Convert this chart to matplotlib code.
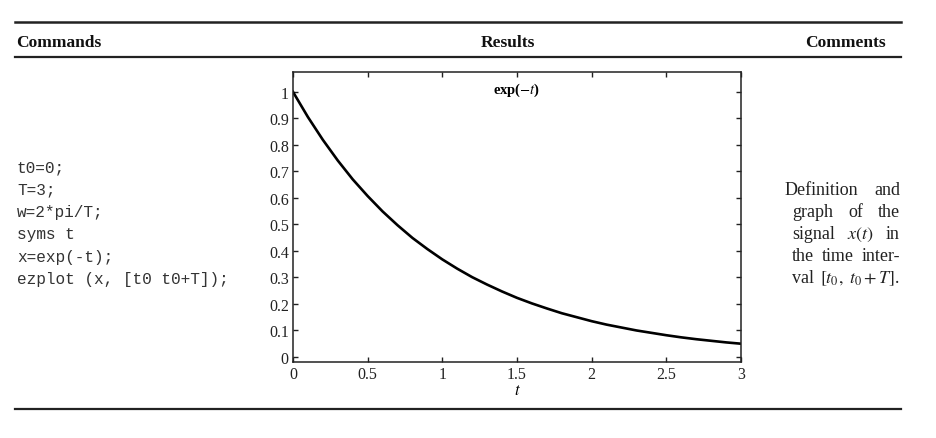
import matplotlib
matplotlib.use("Agg")
import matplotlib.pyplot as plt
from matplotlib.lines import Line2D

plt.rcParams['font.family'] = ['Liberation Serif', 'DejaVu Serif']
plt.rcParams['mathtext.fontset'] = 'stix'

# values
t = [0.0, 0.1, 0.2, 0.3, 0.4, 0.5, 0.6, 0.7, 0.8, 0.9, 1.0,
     1.1, 1.2, 1.3, 1.4, 1.5, 1.6, 1.7, 1.8, 1.9, 2.0,
     2.1, 2.2, 2.3, 2.4, 2.5, 2.6, 2.7, 2.8, 2.9, 3.0]
x = [1.000, 0.905, 0.819, 0.741, 0.670, 0.607, 0.549, 0.497, 0.449, 0.407, 0.368,
     0.333, 0.301, 0.273, 0.247, 0.223, 0.202, 0.183, 0.165, 0.150, 0.135,
     0.122, 0.111, 0.100, 0.091, 0.082, 0.074, 0.067, 0.061, 0.055, 0.050]

xticks = [0, 0.5, 1, 1.5, 2, 2.5, 3]
xtick_labels = ['0', '0.5', '1', '1.5', '2', '2.5', '3']
yticks = [0, 0.1, 0.2, 0.3, 0.4, 0.5, 0.6, 0.7, 0.8, 0.9, 1]
ytick_labels = ['0', '0.1', '0.2', '0.3', '0.4', '0.5', '0.6', '0.7', '0.8', '0.9', '1']

headers = ['Commands', 'Results', 'Comments']
code_lines = ['t0=0;', 'T=3;', 'w=2*pi/T;', 'syms t', 'x=exp(-t);',
              'ezplot (x, [t0 t0+T]);']
comment_lines = [['Definition', 'and'],
                 ['graph', 'of', 'the'],
                 ['signal', '$x(t)$', 'in'],
                 ['the', 'time', 'inter-'],
                 ['val', '$[t_0,$', '$t_0+T]$.']]

W, H = 937, 439
fig = plt.figure(figsize=(W / 100, H / 100), dpi=100)


def fx(px):
    return px / W


def fy(py):
    return 1 - py / H


# table rules
for yy, lw in [(22.7, 1.8), (57.7, 1.6), (410, 1.6)]:
    fig.add_artist(Line2D([fx(15), fx(901)], [fy(yy), fy(yy)],
                          transform=fig.transFigure, color='#222', lw=lw))

fig.text(fx(16), fy(47), headers[0], fontsize=12.5, fontweight='bold',
         ha='left', va='baseline', color='#111')
fig.text(fx(508), fy(47), headers[1], fontsize=12.5, fontweight='bold',
         ha='center', va='baseline', color='#111')
fig.text(fx(886), fy(47), headers[2], fontsize=12.5, fontweight='bold',
         ha='right', va='baseline', color='#111')

# code column
for i, line in enumerate(code_lines):
    fig.text(fx(17), fy(172 + 22.5 * i), line, family='Liberation Mono',
             fontsize=11.6, ha='left', va='baseline', color='#333')

# plot
ax = fig.add_axes([fx(293), fy(363), fx(741) - fx(293), (363 - 73) / H])
ax.plot(t, x, color='black', lw=1.9)
ax.set_xlim(0, 3)
ax.set_ylim(-0.019, 1.075)
ax.set_xticks(xticks)
ax.set_xticklabels(xtick_labels)
ax.set_yticks(yticks)
ax.set_yticklabels(ytick_labels)
ax.tick_params(direction='in', top=True, right=True, length=3.5, width=1,
               labelsize=11.5, pad=3, colors='#222')
for s in ax.spines.values():
    s.set_linewidth(1.1)
    s.set_color('#222')
ax.set_xlabel('$t$', fontsize=12, labelpad=0)
ax.text(0.5, 0.941, r'exp($-t$)', transform=ax.transAxes, ha='center',
        va='center', fontsize=10.5, fontweight='bold')

# comments column, justified
renderer = fig.canvas.get_renderer()
lefts = [785, 792, 792, 792, 792]
right = 900
for i, words in enumerate(comment_lines):
    yb = fy(195 + 22 * i)
    texts = [fig.text(0, yb, w, fontsize=13, ha='left', va='baseline',
                      color='#222') for w in words]
    widths = [tx.get_window_extent(renderer).width for tx in texts]
    gap = (right - lefts[i] - sum(widths)) / (len(words) - 1)
    pos = lefts[i]
    for tx, wd in zip(texts, widths):
        tx.set_x(fx(pos))
        pos += wd + gap

fig.savefig('out.png', dpi=100)
